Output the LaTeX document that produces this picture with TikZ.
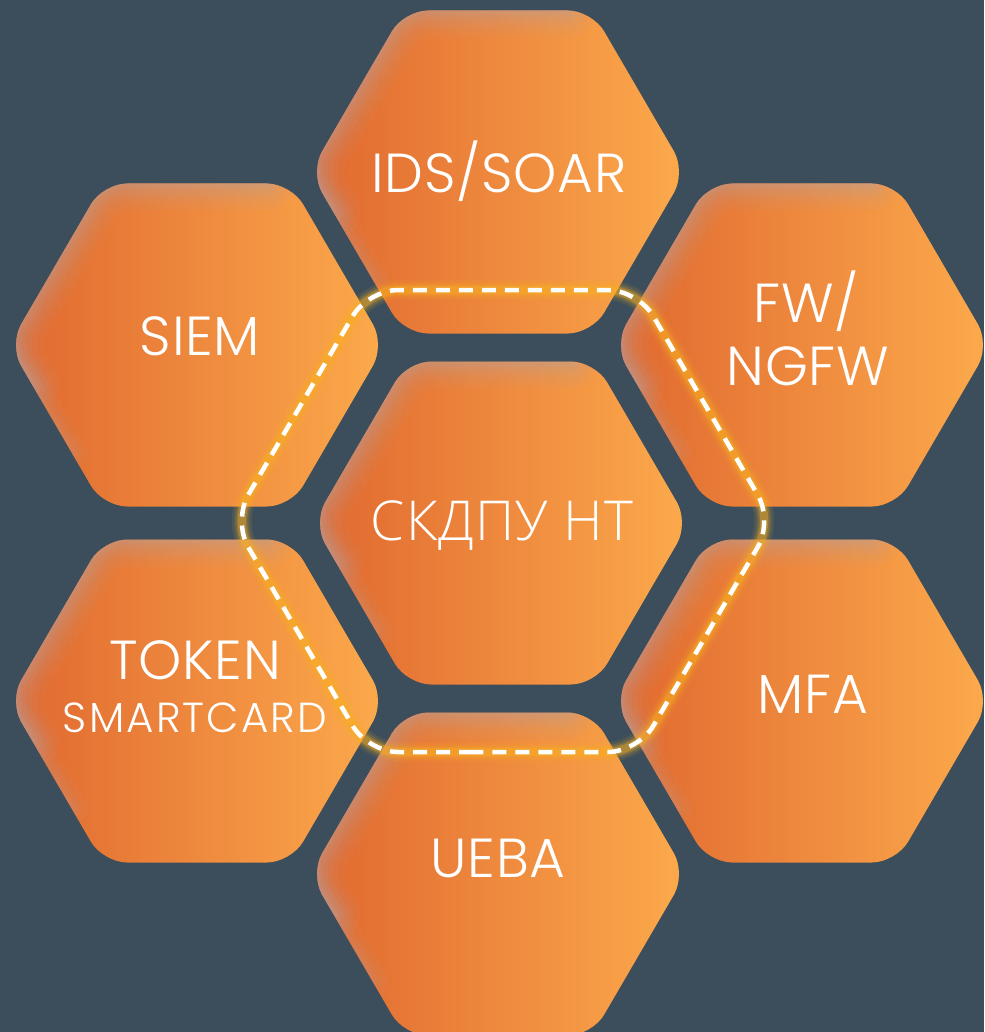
\documentclass[tikz,border=0pt]{standalone}
\usepackage{fontspec}
\IfFontExistsTF{Poppins Light}
  {\newfontfamily\labelfont[LetterSpace=1.5]{Poppins Light}
   \newfontfamily\smallfont[LetterSpace=5]{Poppins Light}}
  {\newfontfamily\labelfont[LetterSpace=5]{Fira Sans Light}
   \newfontfamily\smallfont[LetterSpace=8]{Fira Sans Light}}
\IfFontExistsTF{Open Sans Light}
  {\newfontfamily\cyrfont[LetterSpace=2]{Open Sans Light}}
  {\newfontfamily\cyrfont[LetterSpace=4]{Fira Sans Light}}
\definecolor{bg}{HTML}{3C4E5B}
\definecolor{hexL}{HTML}{E0682F}
\definecolor{hexR}{HTML}{FCAA4C}
\definecolor{rimA}{HTML}{B9A2A0}
\definecolor{glow}{HTML}{F8B020}

\tikzset{
  hexlabel/.style={text=white, inner sep=0pt, anchor=base,
    font=\labelfont\fontsize{55}{60}\selectfont},
  hexsmall/.style={hexlabel, font=\smallfont\fontsize{42}{46}\selectfont},
  cyrlabel/.style={hexlabel, font=\cyrfont\fontsize{55}{60}\selectfont},
  ringglow/.style={glow, rounded corners=30pt, line join=round},
  ringdash/.style={white, line width=4.5pt, dash pattern=on 14pt off 9pt,
    rounded corners=30pt, line join=round},
}

% outline of one cell around the local origin
\def\cellpath{(0,161.5) -- (-94,161.5) -- (-188,0) -- (-94,-161.5)
      -- (94,-161.5) -- (188,0) -- (94,161.5) -- cycle}

% one honeycomb cell: centre x, centre y
\newcommand\honeycell[2]{%
  \begin{scope}[shift={(#1,#2)}]
    \shade[left color=hexL, right color=hexR, rounded corners=24pt] \cellpath;
    \begin{scope}
      \clip[rounded corners=24pt] \cellpath;
      % soft rim along the upper left side and the top
      \foreach \w/\o in {54/0.07,42/0.08,31/0.10,21/0.12,12/0.14,5/0.16}{
        \draw[rimA, line width=\w pt, opacity=\o, rounded corners=24pt, line cap=round]
          (-165,40) -- (-188,0) -- (-94,-161.5) -- (70,-161.5);
      }
      \foreach \w/\o in {30/0.07,18/0.09,8/0.11}{
        \draw[rimA, line width=\w pt, opacity=\o, line cap=round]
          (-188,0) -- (-125,108);
      }
    \end{scope}
  \end{scope}%
}

\begin{document}
\begin{tikzpicture}[x=1pt, y=-1pt]
  \useasboundingbox (0,0) rectangle (984,1032);
  \fill[bg] (0,0) rectangle (984,1032);

  % the seven cells
  \honeycell{498}{172}
  \honeycell{197}{345}
  \honeycell{802}{345}
  \honeycell{501}{523}
  \honeycell{197}{701}
  \honeycell{802}{701}
  \honeycell{498}{874}

  % labels
  \node[hexlabel] (ids)   at (499,193) {IDS/SOAR};
  \node[hexlabel] (siem)  at (200,355) {SIEM};
  \node[hexlabel] (fw)    at (806,322) {FW/};
  \node[hexlabel] (ngfw)  at (808,385) {NGFW};
  \node[cyrlabel] (core)  at (502,540) {СКДПУ НТ};
  \node[hexlabel] (token) at (195,679) {TOKEN};
  \node[hexsmall] (card)  at (195,732) {SMARTCARD};
  \node[hexlabel] (mfa)   at (813,713) {MFA};
  \node[hexlabel] (ueba)  at (498,877) {UEBA};

  % dashed ring around the core cell
  \coordinate (r0) at (503,752);
  \coordinate (r1) at (368,752);
  \coordinate (r2) at (233,521);
  \coordinate (r3) at (368,290);
  \coordinate (r4) at (638,290);
  \coordinate (r5) at (773,521);
  \coordinate (r6) at (638,752);
  \foreach \w/\o in {20/0.10,15/0.15,11/0.22,8/0.35}{
    \draw[ringglow, line width=\w pt, opacity=\o]
      (r0) -- (r1) -- (r2) -- (r3) -- (r4) -- (r5) -- (r6) -- cycle;
  }
  \draw[ringdash] (r0) -- (r1) -- (r2) -- (r3) -- (r4) -- (r5) -- (r6) -- cycle;
\end{tikzpicture}
\end{document}
